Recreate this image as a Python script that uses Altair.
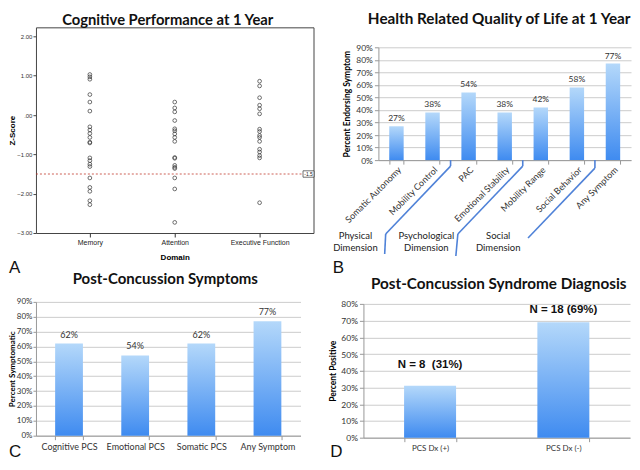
import altair as alt
import pandas as pd

# ---------------- data ----------------
domains = ["Memory", "Attention", "Executive Function"]
memory_z = [1.03, 0.97, 0.91, 0.52, 0.33, 0.10, -0.30, -0.38, -0.47, -0.57, -0.69, -0.71,
            -1.09, -1.16, -1.25, -1.31, -1.60, -1.84, -1.94, -2.18, -2.28]
attention_z = [0.33, 0.18, 0.08, -0.14, -0.35, -0.40, -0.48, -0.57, -0.67, -1.08, -1.10,
               -1.28, -1.33, -1.36, -1.60, -1.88, -2.73]
executive_z = [0.86, 0.74, 0.44, 0.25, 0.16, 0.03, -0.36, -0.42, -0.52, -0.57, -0.67,
               -0.87, -0.94, -1.03, -1.09, -2.23]
cutoff_z = -1.5
z_ticks = [-3, -2, -1, 0, 1, 2]

hrql_items = ["Somatic Autonomy", "Mobility Control", "PAC", "Emotional Stability",
              "Mobility Range", "Social Behavior", "Any Symptom"]
hrql_pct = [0.27, 0.38, 0.54, 0.38, 0.42, 0.58, 0.77]
hrql_dimensions = ["Physical\nDimension", "Psychological\nDimension", "Social\nDimension"]

pcs_items = ["Cognitive PCS", "Emotional PCS", "Somatic PCS", "Any Symptom"]
pcs_pct = [0.62, 0.54, 0.62, 0.77]

dx_groups = ["PCS Dx (+)", "PCS Dx (-)"]
dx_pct = [0.31, 0.69]
dx_labels = ["N = 8\u00a0\u00a0(31%)", "N = 18 (69%)"]

pct_ticks_90 = [i / 10 for i in range(10)]
pct_ticks_80 = [i / 10 for i in range(9)]

# ---------------- styles ----------------
SANS = "Lato"
ARIAL = "Liberation Sans"
BLUE_GRAD = alt.Gradient(
    gradient="linear",
    stops=[alt.GradientStop(color="#b4d8fa", offset=0),
           alt.GradientStop(color="#3f8bf0", offset=1)],
    x1=0, x2=0, y1=0, y2=1,
)
BRACKET = "#4f82d8"
GRID = "#cccccc"
one = pd.DataFrame({"k": [0]})


def letter(ch, x, y, align="left"):
    return alt.Chart(one).mark_text(
        text=ch, font=ARIAL, fontSize=17, color="#111", align=align, baseline="middle"
    ).encode(x=alt.value(x), y=alt.value(y))


def seg(x1, y1, x2, y2):
    return alt.Chart(one).mark_rule(color=BRACKET, strokeWidth=1.6).encode(
        x=alt.value(x1), y=alt.value(y1), x2=alt.value(x2), y2=alt.value(y2))


def title(t, size, offset, dx=0):
    return alt.TitleParams(t, font=SANS, fontSize=size, fontWeight="bold", color="#111",
                           anchor="middle", frame="group", offset=offset, dx=dx)


# ---------------- panel A ----------------
A_W, A_H = 278, 206
dfA = pd.DataFrame({
    "Domain": ["Memory"] * len(memory_z) + ["Attention"] * len(attention_z)
              + ["Executive Function"] * len(executive_z),
    "Z": memory_z + attention_z + executive_z,
})
yA = alt.Y("Z:Q", scale=alt.Scale(domain=[-3, 2.23], nice=False, zero=False),
           axis=alt.Axis(title="Z-Score", values=z_ticks,
                         labelExpr="datum.value == 0 ? '.00' : format(datum.value, '.2f')",
                         labelFont=ARIAL, labelFontSize=6, labelColor="#333", labelPadding=1,
                         tickSize=3, tickColor="#444", domain=False, grid=False,
                         titleFont=ARIAL, titleFontSize=8, titleFontWeight="bold",
                         titleX=-19, titleBaseline="bottom"))
xA = alt.X("Domain:N", sort=domains, scale=alt.Scale(type="point", padding=0.635),
           axis=alt.Axis(title="Domain", labelAngle=0, labelFont=ARIAL, labelFontSize=7,
                         labelColor="#222", labelPadding=2, tickSize=4, tickColor="#333",
                         domain=False, grid=False, titleFont=ARIAL, titleFontSize=8,
                         titleFontWeight="bold", titlePadding=8))
pointsA = alt.Chart(dfA).mark_point(shape="circle", size=14, filled=False, stroke="#333",
                                    strokeWidth=0.7, opacity=1).encode(x=xA, y=yA)
ruleA = alt.Chart(one).mark_rule(color="#c0392b", strokeDash=[2, 2], strokeWidth=0.8).encode(
    y=alt.datum(cutoff_z))
boxA = alt.Chart(one).mark_point(shape="M-1.2,-0.7L1.2,-0.7L1.2,0.7L-1.2,0.7Z", size=84,
                                 filled=True, fill="white", stroke="#333", strokeWidth=0.7,
                                 opacity=1).encode(x=alt.value(A_W - 5), y=alt.datum(cutoff_z))
boxTextA = alt.Chart(one).mark_text(text="-1.5", font=ARIAL, fontSize=5, color="#222").encode(
    x=alt.value(A_W - 5), y=alt.datum(cutoff_z))
A = alt.layer(ruleA, pointsA, boxA, boxTextA, letter("A", -27, 241)).properties(
    width=A_W, height=A_H, title=title("Cognitive Performance at 1 Year", 14.8, 0, -7),
    view=alt.ViewBackground(stroke="#444", strokeWidth=1))

# ---------------- panel B ----------------
# panel B shares its column with D but its axis sits further right
B_W, B_H, B_X0 = 268, 133, 15
dfB = pd.DataFrame({"Item": hrql_items, "Pct": hrql_pct})
xB = alt.X("Item:N", sort=hrql_items,
           scale=alt.Scale(paddingInner=0.6, paddingOuter=0.3, range=[B_X0, B_W]),
           axis=alt.Axis(title=None, labelAngle=-45, labelFont=SANS, labelFontSize=9,
                         labelColor="#333", tickBand="extent", tickSize=4, labelPadding=1))
yB = alt.Y("Pct:Q", scale=alt.Scale(domain=[0, 0.9], nice=False, range=[B_H, 20]),
           axis=alt.Axis(title="Percent Endorsing Symptom", values=pct_ticks_90, format="%",
                         labelFont=SANS, labelFontSize=8.5, labelColor="#333", tickSize=4,
                         titleFont=SANS, titleFontSize=8.5, titleFontWeight="bold",
                         titleX=-27, titleBaseline="bottom", grid=True, gridColor=GRID,
                         offset=-B_X0))
barsB = alt.Chart(dfB).mark_bar(color=BLUE_GRAD).encode(x=xB, y=yB)
textB = alt.Chart(dfB).mark_text(font=SANS, fontSize=8.5, color="#333", baseline="bottom",
                                 dy=-3).encode(x=xB, y=yB, text=alt.Text("Pct:Q", format=".0%"))
step = (B_W - B_X0) / len(hrql_items)
b1, b2, b3 = B_X0 + 2 * step, B_X0 + 4 * step, B_X0 + 6 * step
brackets = [
    seg(b1, B_H, b1, 139), seg(b1, 139, b1 - 65, 207), seg(b1 - 65, 207, b1 - 66, 227),
    seg(b2, B_H, b2, 139), seg(b2, 139, b2 - 65, 207), seg(b2 - 65, 207, b2 - 67, 229),
    seg(b3, B_H, b3, 141), seg(b3, 141, b3 - 67, 211),
]
dim_x = [-8, 63, 135]
dim_texts = [
    alt.Chart(one).mark_text(text=t, lineBreak="\n", font=SANS, fontSize=9.5, color="#222",
                             align="center", baseline="top", lineHeight=12.5).encode(
        x=alt.value(x), y=alt.value(204))
    for t, x in zip(hrql_dimensions, dim_x)
]
B = alt.layer(barsB, textB, *brackets, *dim_texts,
              letter("B", -25, 241, "center")).properties(
    width=B_W, height=B_H, title=title("Health Related Quality of Life at 1 Year", 15.3, 0, 2))

# ---------------- panel C ----------------
C_W, C_H = 265, 134
dfC = pd.DataFrame({"Item": pcs_items, "Pct": pcs_pct})
xC = alt.X("Item:N", sort=pcs_items, scale=alt.Scale(paddingInner=0.58, paddingOuter=0.29),
           axis=alt.Axis(title=None, labelAngle=0, labelFont=SANS, labelFontSize=9,
                         labelColor="#333", tickBand="extent", tickSize=4, labelPadding=3))
yC = alt.Y("Pct:Q", scale=alt.Scale(domain=[0, 0.9], nice=False),
           axis=alt.Axis(title="Percent Symptomatic", values=pct_ticks_90, format="%",
                         labelFont=SANS, labelFontSize=8, labelColor="#333", tickSize=3,
                         labelPadding=1, titleFont=SANS, titleFontSize=8,
                         titleFontWeight="bold", titleX=-19, titleBaseline="bottom",
                         grid=True, gridColor=GRID))
barsC = alt.Chart(dfC).mark_bar(color=BLUE_GRAD).encode(x=xC, y=yC)
textC = alt.Chart(dfC).mark_text(font=SANS, fontSize=9, color="#333", baseline="bottom",
                                 dy=-4).encode(x=xC, y=yC, text=alt.Text("Pct:Q", format=".0%"))
C = alt.layer(barsC, textC, letter("C", -27, 150)).properties(
    width=C_W, height=C_H, title=title("Post-Concussion Symptoms", 15, 11, -3))

# ---------------- panel D ----------------
D_W, D_H = 267, 136
dfD = pd.DataFrame({"Group": dx_groups, "Pct": dx_pct, "Label": dx_labels})
xD = alt.X("Group:N", sort=dx_groups, scale=alt.Scale(paddingInner=0.61, paddingOuter=0.305),
           axis=alt.Axis(title=None, labelAngle=0, labelFont=SANS, labelFontSize=8,
                         labelColor="#333", tickBand="extent", tickSize=4, labelPadding=3))
yD = alt.Y("Pct:Q", scale=alt.Scale(domain=[0, 0.8], nice=False, range=[D_H, 2]),
           axis=alt.Axis(title="Percent Positive", values=pct_ticks_80, format="%",
                         labelFont=SANS, labelFontSize=8.5, labelColor="#333", tickSize=4,
                         titleFont=SANS, titleFontSize=8.5, titleFontWeight="bold",
                         titleX=-26, titleBaseline="bottom", grid=True, gridColor=GRID))
barsD = alt.Chart(dfD).mark_bar(color=BLUE_GRAD).encode(x=xD, y=yD)
textD_lo = alt.Chart(dfD).transform_filter(alt.datum.Group == dx_groups[0]).mark_text(
    font=ARIAL, fontSize=11.5, fontWeight="bold", color="#111", baseline="middle", dy=-21
).encode(x=xD, y=yD, text="Label:N")
textD_hi = alt.Chart(dfD).transform_filter(alt.datum.Group == dx_groups[1]).mark_text(
    font=ARIAL, fontSize=11.5, fontWeight="bold", color="#111", baseline="middle", dy=-12
).encode(x=xD, y=yD, text="Label:N")
D = alt.layer(barsD, textD_lo, textD_hi, letter("D", -27, 150, "center")).properties(
    width=D_W, height=D_H, title=title("Post-Concussion Syndrome Diagnosis", 15.3, 8, 2))

chart = alt.concat(
    A, B, C, D, columns=2, bounds="flush",
    spacing={"row": 69, "column": 50},
    align="each",
).properties(
    padding={"top": 3, "left": 0, "right": 0, "bottom": 0}
).configure_view(stroke=None).configure_axis(
    domainColor="#999", tickColor="#999",
)

chart.save("out.html", embed_options={"renderer": "svg", "actions": False})
